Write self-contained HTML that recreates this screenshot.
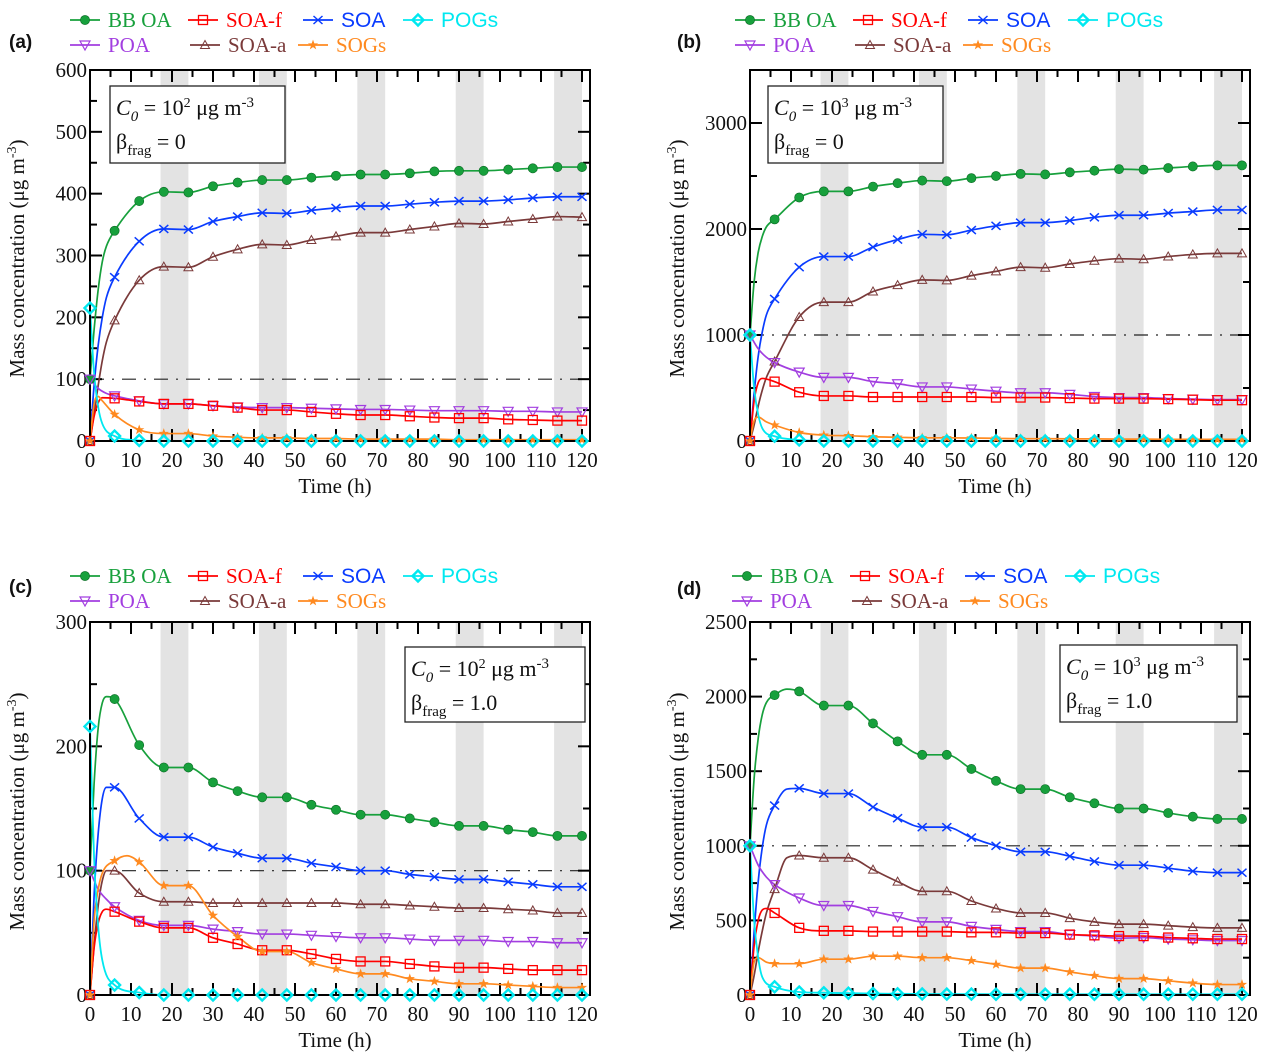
<!DOCTYPE html>
<html><head><meta charset="utf-8"><style>
html,body{margin:0;padding:0;background:#fff;}
svg{display:block;}
</style></head>
<body>
<svg id="fig" width="1269" height="1063" viewBox="0 0 1269 1063" xmlns="http://www.w3.org/2000/svg" font-family="Liberation Serif, serif"></svg>
<script>
const hours=[0,6,12,18,24,30,36,42,48,54,60,66,72,78,84,90,96,102,108,114,120];
const nightBands=[[17.2,24],[41.2,48],[65.2,72],[89.2,96],[113.2,120]];
const xTickLabels=[0,10,20,30,40,50,60,70,80,90,100,110,120];
const aTicks=[0,100,200,300,400,500,600];
const bTicks=[0,1000,2000,3000];
const cTicks=[0,100,200,300];
const dTicks=[0,500,1000,1500,2000,2500];
// Panel a
const aBBOA=[100,340,388,403,402,412,418,422,422,426,429,431,431,433,436,437,437,439,441,443,443];
const aSOA=[0,265,323,343,342,355,363,369,368,373,377,380,380,383,386,388,388,390,393,395,395];
const aSOAa=[0,195,260,282,281,298,310,318,317,325,331,337,337,342,347,352,351,355,359,363,362];
const aSOAf=[0,69,64,60,60,57,54,50,50,47,44,42,42,40,38,37,37,35,34,33,33];
const aPOA=[100,73,65,60,60,57,55,54,54,53,52,51,51,50,49,49,49,48,48,47,47];
const aSOGs=[0,43,18,12,12,8,6,5,5,4,4,3,3,3,3,2,2,2,2,2,2];
const aPOGs=[215,8,1,0,0,0,0,0,0,0,0,0,0,0,0,0,0,0,0,0,0];
const aEarly={BBOA:[[1,180],[2,245],[3,290],[4,315]],SOA:[[1,90],[2,155],[3,200],[4,232]],SOAa:[[1,45],[2,90],[3,130],[4,160]],SOAf:[[1,40],[2,62],[3,70]],POA:[[2,85],[4,77]],SOGs:[[1,60],[2,72],[3,65]],POGs:[[1,110],[2,55],[3,28]]};
// Panel b
const bBBOA=[1000,2091,2297,2355,2355,2400,2432,2457,2451,2480,2500,2520,2515,2535,2550,2565,2560,2575,2590,2600,2600];
const bSOA=[0,1340,1640,1740,1740,1830,1900,1950,1945,1990,2030,2060,2060,2080,2110,2130,2130,2150,2165,2180,2180];
const bSOAa=[0,750,1170,1310,1310,1410,1470,1520,1515,1560,1600,1640,1635,1670,1700,1720,1715,1740,1760,1770,1770];
const bSOAf=[0,560,460,425,425,415,415,415,415,415,410,410,410,405,400,400,400,395,390,385,385];
const bPOA=[1000,740,650,600,600,560,540,510,510,490,470,455,455,440,420,410,410,400,395,390,390];
const bSOGs=[0,150,80,55,50,40,35,30,30,28,25,22,22,20,20,18,18,16,15,15,15];
const bPOGs=[1000,45,10,0,0,0,0,0,0,0,0,0,0,0,0,0,0,0,0,0,0];
const bEarly={BBOA:[[1,1500],[2,1780],[3,1930],[4,2020]],SOA:[[1,450],[2,800],[3,1030],[4,1190]],SOAa:[[1,150],[2,330],[3,480],[4,600]],SOAf:[[1,380],[2,550],[3,590]],POA:[[2,870],[4,790]],SOGs:[[1,190],[2,225],[4,180]],POGs:[[1,500],[2,250],[3,120]]};
// Panel c
const cBBOA=[100,238,201,183,183,171,164,159,159,153,149,145,145,142,139,136,136,133,131,128,128];
const cSOA=[0,167,142,127,127,119,114,110,110,106,103,100,100,97,95,93,93,91,89,87,87];
const cSOAa=[0,100,82,75,75,74,74,74,74,74,74,73,73,72,71,70,70,69,68,66,66];
const cSOAf=[0,67,59,54,54,46,41,36,36,33,29,27,27,25,23,22,22,21,20,20,20];
const cPOA=[100,71,60,56,56,53,51,49,49,48,47,46,46,45,44,44,44,43,43,42,42];
const cSOGs=[0,108,107,88,88,64,47,35,35,26,21,17,17,13,11,9,9,8,7,6,6];
const cPOGs=[216,8,2,0,0,0,0,0,0,0,0,0,0,0,0,0,0,0,0,0,0];
const cEarly={BBOA:[[1,170],[2,215],[3,235],[4,240]],SOA:[[1,80],[2,130],[3,158],[4,167]],SOAa:[[1,40],[2,72],[3,92],[4,100]],SOAf:[[1,38],[2,58],[3,67],[4,69]],POA:[[2,85],[4,77]],SOGs:[[1,60],[2,85],[3,98],[9,112]],POGs:[[1,110],[2,55],[3,28]]};
// Panel d
const dBBOA=[1000,2010,2035,1940,1940,1820,1700,1610,1610,1515,1435,1380,1380,1325,1285,1250,1250,1220,1195,1180,1180];
const dSOA=[0,1270,1385,1350,1350,1260,1185,1125,1125,1055,1000,960,960,930,895,870,870,850,830,820,820];
const dSOAa=[0,710,935,920,920,840,760,695,695,630,580,550,550,515,490,475,475,465,455,450,450];
const dSOAf=[0,550,450,430,430,425,425,425,425,420,420,415,415,405,400,395,395,385,380,375,375];
const dPOA=[1000,740,650,600,600,560,525,490,490,460,440,425,425,405,395,380,385,375,370,365,365];
const dSOGs=[0,210,210,240,240,260,260,250,250,230,205,180,180,155,130,110,110,95,80,70,70];
const dPOGs=[1000,55,20,15,12,10,8,7,6,6,5,5,5,5,5,5,5,5,5,5,5];
const dEarly={BBOA:[[1,1450],[2,1720],[3,1880],[4,1960],[9,2050]],SOA:[[1,420],[2,760],[3,990],[4,1140],[9,1380]],SOAa:[[1,130],[2,290],[3,430],[4,550],[9,920]],SOAf:[[1,330],[2,500],[3,570],[4,580]],POA:[[2,870],[4,790]],SOGs:[[1,220],[2,250],[4,220]],POGs:[[1,500],[2,250],[3,120]]};

const NS="http://www.w3.org/2000/svg";
const svg=document.getElementById('fig');
function mk(tag,attrs,parent){const e=document.createElementNS(NS,tag);for(const k in attrs)e.setAttribute(k,attrs[k]);(parent||svg).appendChild(e);return e;}
const SERIF='Liberation Serif, serif';
const SANS='Liberation Sans, sans-serif';

const COL={BBOA:'#17a03c',SOAf:'#ff0000',SOA:'#0a3cff',POGs:'#00e8f0',POA:'#a23ee0',SOAa:'#7a3a3a',SOGs:'#ff8a20'};
const LBL={BBOA:'BB OA',SOAf:'SOA-f',SOA:'SOA',POGs:'POGs',POA:'POA',SOAa:'SOA-a',SOGs:'SOGs'};

function marker(type,x,y,g){
  const c=COL[type];let e;
  if(type==='BBOA'){e=mk('circle',{cx:x,cy:y,r:4.6,fill:c,stroke:'#0b6a25','stroke-width':0.6},g);}
  else if(type==='SOAf'){e=mk('rect',{x:x-4.5,y:y-4.5,width:9,height:9,fill:'none',stroke:c,'stroke-width':1.3},g);}
  else if(type==='SOA'){e=mk('path',{d:`M${x-4.5} ${y-4}L${x+4.5} ${y+4}M${x-4.5} ${y+4}L${x+4.5} ${y-4}`,stroke:c,'stroke-width':1.5,fill:'none'},g);}
  else if(type==='POGs'){e=mk('path',{d:`M${x} ${y-5.5}L${x+5.5} ${y}L${x} ${y+5.5}L${x-5.5} ${y}Z`,stroke:c,'stroke-width':2.4,fill:'none'},g);}
  else if(type==='POA'){e=mk('path',{d:`M${x-5} ${y-4}L${x+5} ${y-4}L${x} ${y+5}Z`,stroke:c,'stroke-width':1.2,fill:'none'},g);}
  else if(type==='SOAa'){e=mk('path',{d:`M${x-4.5} ${y+3.5}L${x+4.5} ${y+3.5}L${x} ${y-4.5}Z`,stroke:c,'stroke-width':1,fill:'none'},g);}
  else {let d='';for(let i=0;i<10;i++){const r=i%2?1.8:4.5;const a=-Math.PI/2+i*Math.PI/5;d+=(i?'L':'M')+(x+r*Math.cos(a)).toFixed(2)+' '+(y+r*Math.sin(a)).toFixed(2);}e=mk('path',{d:d+'Z',fill:c,stroke:c,'stroke-width':0.6},g);}
  return e;
}

function monoPath(pts,sx,sy){
  const n=pts.length,xs=pts.map(p=>p[0]),ys=pts.map(p=>p[1]);
  const d=[],m=[];
  for(let k=0;k<n-1;k++)d.push((ys[k+1]-ys[k])/(xs[k+1]-xs[k]));
  m[0]=d[0];m[n-1]=d[n-2];
  for(let k=1;k<n-1;k++)m[k]=(d[k-1]*d[k]<=0)?0:(d[k-1]+d[k])/2;
  for(let k=0;k<n-1;k++){if(d[k]===0){m[k]=0;m[k+1]=0;continue;}const a=m[k]/d[k],b=m[k+1]/d[k],s=a*a+b*b;if(s>9){const t=3/Math.sqrt(s);m[k]=t*a*d[k];m[k+1]=t*b*d[k];}}
  let p=`M${sx(xs[0]).toFixed(2)} ${sy(ys[0]).toFixed(2)}`;
  for(let k=0;k<n-1;k++){const h=xs[k+1]-xs[k];
    p+=`C${sx(xs[k]+h/3).toFixed(2)} ${sy(ys[k]+m[k]*h/3).toFixed(2)} ${sx(xs[k+1]-h/3).toFixed(2)} ${sy(ys[k+1]-m[k+1]*h/3).toFixed(2)} ${sx(xs[k+1]).toFixed(2)} ${sy(ys[k+1]).toFixed(2)}`;}
  return p;
}

function panel(id,P,ticks,series,early,c0,beta){
  const g=mk('g',{});
  
  
  const sx=t=>P.x0+t/120*(P.x120-P.x0);
  const sy=v=>P.yb-v/P.ymax*(P.yb-P.yt);
  const cid='clip'+id;
  const cp=mk('clipPath',{id:cid},g);mk('rect',{x:P.x0,y:P.yt,width:P.xr-P.x0,height:P.yb-P.yt},cp);
  nightBands.forEach(b=>{const r=mk('rect',{x:sx(b[0]),y:P.yt,width:sx(b[1])-sx(b[0]),height:P.yb-P.yt,fill:'#e3e3e3'},g);
    
    });
  const ref=mk('line',{x1:P.x0,x2:P.xr,y1:sy(c0),y2:sy(c0),stroke:'#222','stroke-width':1.2,'stroke-dasharray':'14 8 2 8'},g);
  
  
  for(let t=0;t<=120;t+=5){const L=t%10===0?12:7;const x=sx(t);
    mk('line',{x1:x,x2:x,y1:P.yb,y2:P.yb-L,stroke:'#000','stroke-width':2},g);
    mk('line',{x1:x,x2:x,y1:P.yt,y2:P.yt+L,stroke:'#000','stroke-width':2},g);}
  const step=ticks[1]-ticks[0];
  for(let v=0;v<=P.ymax+1e-6;v+=step/2){const maj=Math.abs(v/step-Math.round(v/step))<1e-6;const L=maj?12:7;const y=sy(v);
    mk('line',{x1:P.x0,x2:P.x0+L,y1:y,y2:y,stroke:'#000','stroke-width':2},g);
    mk('line',{x1:P.xr,x2:P.xr-L,y1:y,y2:y,stroke:'#000','stroke-width':2},g);}
  ticks.forEach(v=>{const t=mk('text',{x:P.x0-3,y:sy(v)+7,'text-anchor':'end','font-size':21,'font-family':SERIF,fill:'#111'},g);t.textContent=v;
    
    });
  xTickLabels.forEach(v=>{const t=mk('text',{x:sx(v),y:P.yb+26,'text-anchor':'middle','font-size':21,'font-family':SERIF,fill:'#111'},g);t.textContent=v;
    
    });
  const sg=mk('g',{'clip-path':`url(#${cid})`},g);
  Object.keys(series).forEach(k=>{
    const vals=series[k];
    const pts=hours.map((t,i)=>[t,vals[i]]).concat(early[k]||[]).sort((a,b)=>a[0]-b[0]);
    const path=mk('path',{d:monoPath(pts,sx,sy),fill:'none',stroke:COL[k],'stroke-width':k==='POGs'?1.8:1.7},sg);
    
    
  });
  const fr=mk('rect',{x:P.x0,y:P.yt,width:P.xr-P.x0,height:P.yb-P.yt,fill:'none',stroke:'#000','stroke-width':2},g);
  
  
  const mg=mk('g',{},g);
  Object.keys(series).forEach(k=>{
    const vals=series[k];
    hours.forEach((t,i)=>{const m=marker(k,sx(t),sy(vals[i]),mg);
      
      });
  });
  const bx=P.box;
  const br=mk('rect',{x:bx[0],y:bx[1],width:bx[2],height:bx[3],fill:'#fff',stroke:'#222','stroke-width':1.3},g);
  
  
  const t1=mk('text',{x:bx[0]+6,y:bx[1]+29,'font-size':22,'font-family':SERIF,fill:'#111'},g);
  t1.innerHTML=`<tspan font-style="italic">C</tspan><tspan font-style="italic" font-size="15" dy="6">0</tspan><tspan dy="-6"> = 10</tspan><tspan font-size="14" dy="-8">${P.exp}</tspan><tspan dy="8"> μg m</tspan><tspan font-size="15" dy="-8">-3</tspan>`;
  
  
  const t2=mk('text',{x:bx[0]+6,y:bx[1]+63,'font-size':22,'font-family':SERIF,fill:'#111'},g);
  t2.innerHTML=`β<tspan font-size="15" dy="6">frag</tspan><tspan dy="-6"> = ${beta}</tspan>`;
  
  
  const xt=mk('text',{x:(P.x0+P.xr)/2-5,y:P.yb+52,'text-anchor':'middle','font-size':21,'font-family':SERIF,fill:'#111'},g);xt.textContent='Time (h)';
  
  
  const cy=(P.yt+P.yb)/2+3;
  const yt=mk('text',{x:P.x0-66,y:cy,'text-anchor':'middle','font-size':21,'font-family':SERIF,fill:'#111',transform:`rotate(-90 ${P.x0-66} ${cy})`},g);
  yt.innerHTML='Mass concentration (μg m<tspan font-size="14" dy="-8">-3</tspan><tspan dy="8">)</tspan>';
  
  
  const pl=mk('text',{x:P.lx,y:P.ly,'font-size':19,'font-weight':'bold','font-family':SANS,fill:'#111'},g);pl.textContent=`(${id})`;
  
  
  const lg=mk('g',{},g);
  
  
  const ox=P.lgx,r1=P.lgy,r2=P.lgy+25;
  const items=[['BBOA',0,r1],['SOAf',118,r1],['SOA',233,r1],['POGs',333,r1],['POA',0,r2],['SOAa',120,r2],['SOGs',228,r2]];
  items.forEach(it=>{const k=it[0],x=ox+it[1],y=it[2];
    const e=mk('g',{},lg);
    
    
    mk('line',{x1:x,x2:x+30,y1:y,y2:y,stroke:COL[k],'stroke-width':1.8},e);
    marker(k,x+15,y,e);
    const t=mk('text',{x:x+38,y:y+7,'font-size':21,'font-family':(k==='SOA'||k==='POGs')?SANS:SERIF,fill:COL[k]},e);t.textContent=LBL[k];});
}

panel('a',{x0:90,x120:582,xr:590,yt:70,yb:441,ymax:600,exp:2,box:[110,86,175,77],lx:9,ly:48,lgx:70,lgy:20},aTicks,
 {BBOA:aBBOA,SOA:aSOA,SOAa:aSOAa,POA:aPOA,SOAf:aSOAf,SOGs:aSOGs,POGs:aPOGs},aEarly,100,'0');
panel('b',{x0:750,x120:1242,xr:1250,yt:70,yb:441,ymax:3500,exp:3,box:[768,86,175,77],lx:677,ly:48,lgx:735,lgy:20},bTicks,
 {BBOA:bBBOA,SOA:bSOA,SOAa:bSOAa,POA:bPOA,SOAf:bSOAf,SOGs:bSOGs,POGs:bPOGs},bEarly,1000,'0');
panel('c',{x0:90,x120:582,xr:590,yt:622,yb:995,ymax:300,exp:2,box:[405,647,180,75],lx:9,ly:593,lgx:70,lgy:576},cTicks,
 {BBOA:cBBOA,SOA:cSOA,SOAa:cSOAa,POA:cPOA,SOAf:cSOAf,SOGs:cSOGs,POGs:cPOGs},cEarly,100,'1.0');
panel('d',{x0:750,x120:1242,xr:1250,yt:622,yb:995,ymax:2500,exp:3,box:[1060,645,177,77],lx:677,ly:595,lgx:732,lgy:576},dTicks,
 {BBOA:dBBOA,SOA:dSOA,SOAa:dSOAa,POA:dPOA,SOAf:dSOAf,SOGs:dSOGs,POGs:dPOGs},dEarly,1000,'1.0');
</script>
</body></html>
